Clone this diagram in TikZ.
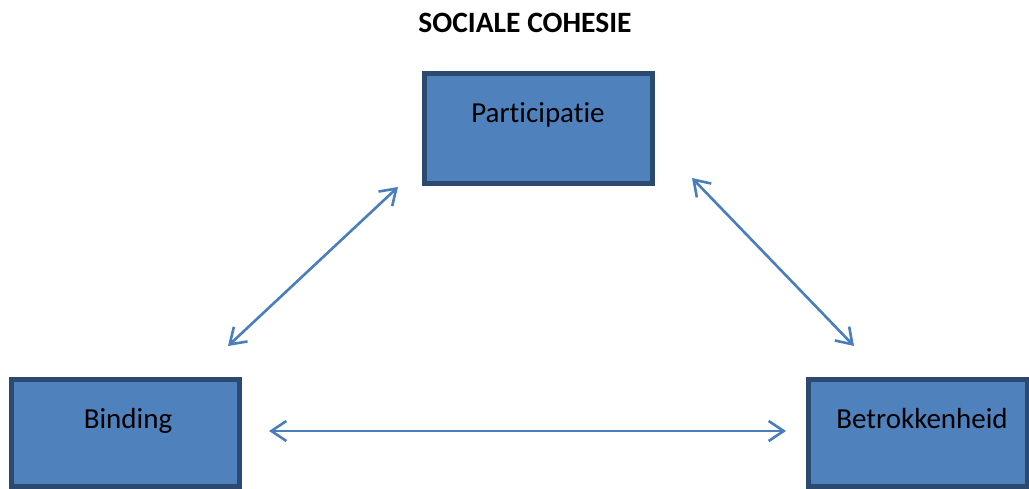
\documentclass[tikz,border=0pt]{standalone}
\usepackage{fontspec}
\setmainfont[Ligatures=NoCommon]{Carlito}
\usetikzlibrary{arrows.meta}
\definecolor{boxfill}{HTML}{4F81BD}
\definecolor{boxline}{HTML}{2C4A70}
\definecolor{arrowc}{HTML}{4A7EBB}
\begin{document}
\begin{tikzpicture}[x=1pt,y=-1pt,
  box/.style={draw=boxline,fill=boxfill,line width=5pt,rectangle,inner sep=0pt},
  lbl/.style={font=\fontsize{29}{33}\selectfont,text=black,inner sep=0pt},
  link/.style={draw=arrowc,line width=2.6pt,{Straight Barb[length=15pt,width=20pt,line width=2.6pt]}-{Straight Barb[length=15pt,width=20pt,line width=2.6pt]}}]
\useasboundingbox (0,0) rectangle (1029,489);
\node[font=\bfseries\fontsize{29.5}{33}\selectfont,inner sep=0pt] (title) at (525,23) {SOCIALE COHESIE};
\node[box,minimum width=228pt,minimum height=110pt] (p) at (538,128.5) {};
\node[lbl] (pt) at (538,115) {Participatie};
\node[box,minimum width=228pt,minimum height=107pt] (b) at (125.5,432.5) {};
\node[lbl] (bt) at (128,421) {Binding};
\node[box,minimum width=219pt,minimum height=107pt] (r) at (917.5,432.5) {};
\node[lbl] (rt) at (922,419) {Betrokkenheid};
\coordinate (a1) at (228,346);
\coordinate (a2) at (398,187);
\coordinate (c1) at (692,178);
\coordinate (c2) at (854,346);
\coordinate (h1) at (269,431);
\coordinate (h2) at (786,431);
\draw[link] (a1) -- (a2);
\draw[link] (c1) -- (c2);
\draw[link] (h1) -- (h2);
\end{tikzpicture}
\end{document}
